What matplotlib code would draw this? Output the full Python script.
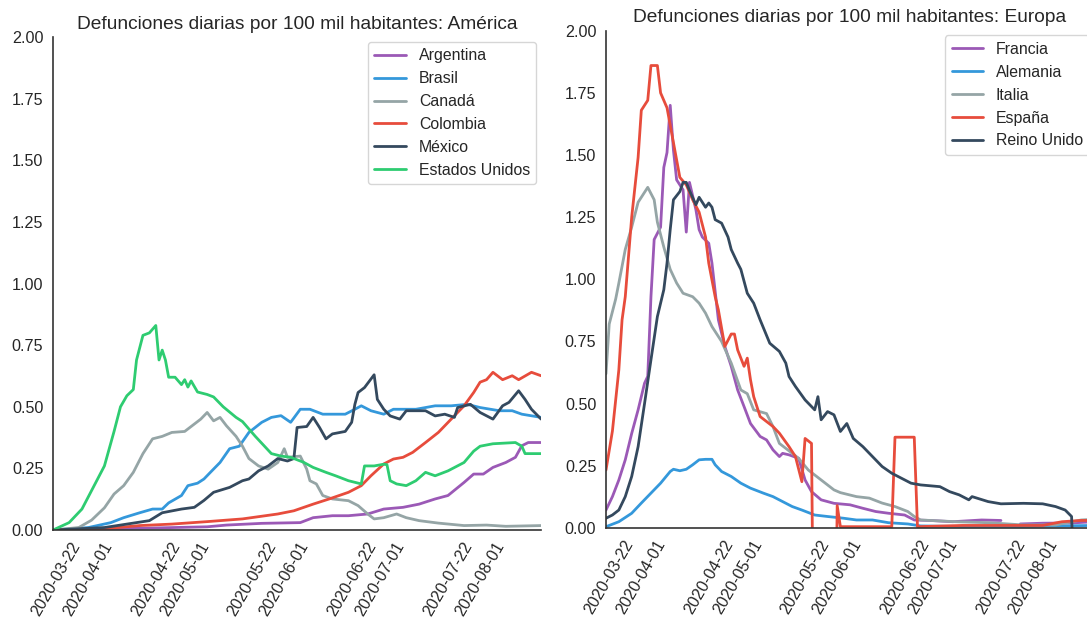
import numpy as np
import pandas as pd
import matplotlib
matplotlib.use("Agg")
import matplotlib.pyplot as plt
import matplotlib.dates as mdates
import seaborn as sns

# días desde 2020-03-21 y defunciones diarias por 100 mil habitantes
inicio = pd.Timestamp("2020-03-21")
fin_dias = 152

# --- América ---
arg_dias = [0, 27, 48, 54, 65, 77, 81, 87, 92, 98, 103, 109, 114, 119, 123, 128, 131, 134, 137, 141, 144, 146, 148, 152]
arg_vals = [0.0, 0.007, 0.013, 0.02, 0.027, 0.03, 0.05, 0.058, 0.058, 0.065, 0.085, 0.092, 0.105, 0.126, 0.14, 0.193,
            0.227, 0.227, 0.254, 0.274, 0.295, 0.342, 0.355, 0.355]

bra_dias = [0, 11, 18, 22, 27, 31, 34, 36, 40, 42, 45, 47, 49, 52, 55, 58, 61, 65, 68, 71, 74, 77, 80, 84, 91, 94, 96,
            99, 103, 106, 113, 119, 124, 129, 133, 139, 143, 146, 152]
bra_vals = [0.0, 0.01, 0.03, 0.05, 0.07, 0.085, 0.085, 0.11, 0.14, 0.18, 0.19, 0.207, 0.234, 0.274, 0.33, 0.34, 0.396,
            0.437, 0.457, 0.464, 0.437, 0.49, 0.49, 0.47, 0.47, 0.49, 0.504, 0.484, 0.47, 0.49, 0.49, 0.504, 0.504,
            0.51, 0.497, 0.484, 0.484, 0.47, 0.457]

can_dias = [0, 8, 12, 16, 19, 22, 25, 28, 31, 34, 37, 41, 44, 46, 48, 50, 52, 54, 57, 59, 61, 64, 67, 70, 72, 73, 77,
            79, 80, 82, 84, 87, 92, 95, 98, 100, 103, 107, 110, 114, 120, 128, 135, 141, 152]
can_vals = [0.0, 0.01, 0.04, 0.09, 0.146, 0.18, 0.234, 0.31, 0.37, 0.38, 0.396, 0.40, 0.43, 0.45, 0.477, 0.443, 0.457,
            0.423, 0.38, 0.34, 0.29, 0.26, 0.247, 0.274, 0.33, 0.295, 0.30, 0.247, 0.20, 0.187, 0.14, 0.126, 0.119,
            0.099, 0.065, 0.045, 0.05, 0.065, 0.05, 0.038, 0.028, 0.018, 0.02, 0.015, 0.018]

col_dias = [0, 15, 27, 37, 48, 59, 70, 75, 81, 86, 92, 96, 99, 103, 106, 109, 112, 116, 120, 124, 128, 131, 133, 135,
            137, 140, 143, 145, 149, 152]
col_vals = [0.0, 0.004, 0.018, 0.024, 0.034, 0.045, 0.065, 0.078, 0.105, 0.126, 0.153, 0.18, 0.22, 0.268, 0.288, 0.295,
            0.315, 0.355, 0.396, 0.45, 0.504, 0.558, 0.60, 0.61, 0.64, 0.61, 0.626, 0.61, 0.64, 0.626]

mex_dias = [0, 16, 23, 30, 34, 40, 44, 47, 50, 55, 59, 61, 64, 67, 70, 73, 75, 76, 79, 81, 83, 85, 87, 91, 93, 94, 95,
            97, 100, 101, 103, 105, 108, 110, 116, 119, 122, 125, 126, 130, 133, 137, 140, 142, 145, 147, 149, 152]
mex_vals = [0.0, 0.01, 0.024, 0.038, 0.07, 0.085, 0.092, 0.12, 0.153, 0.173, 0.20, 0.207, 0.24, 0.26, 0.29, 0.28, 0.29,
            0.416, 0.42, 0.457, 0.416, 0.37, 0.39, 0.40, 0.437, 0.51, 0.558, 0.578, 0.63, 0.53, 0.49, 0.463, 0.45,
            0.484, 0.484, 0.463, 0.47, 0.457, 0.497, 0.51, 0.477, 0.45, 0.504, 0.518, 0.565, 0.53, 0.49, 0.45]

usa_dias = [0, 5, 9, 12, 16, 19, 21, 23, 25, 26, 28, 30, 32, 33, 34, 35, 36, 38, 40, 41, 42, 43, 45, 48, 50, 53, 57, 59,
            63, 68, 71, 74, 78, 81, 85, 88, 92, 96, 97, 100, 103, 104, 105, 107, 110, 113, 116, 119, 123, 128, 131, 133,
            137, 144, 146, 147, 152]
usa_vals = [0.0, 0.03, 0.085, 0.16, 0.26, 0.40, 0.50, 0.545, 0.57, 0.69, 0.79, 0.80, 0.83, 0.69, 0.73, 0.69, 0.62, 0.62,
            0.59, 0.61, 0.58, 0.605, 0.56, 0.55, 0.54, 0.50, 0.457, 0.44, 0.38, 0.31, 0.30, 0.295, 0.275, 0.254, 0.234,
            0.22, 0.20, 0.187, 0.26, 0.26, 0.267, 0.265, 0.20, 0.187, 0.18, 0.20, 0.234, 0.22, 0.24, 0.274, 0.32, 0.34,
            0.35, 0.355, 0.34, 0.31, 0.31]

# --- Europa ---
fra_dias = [0, 2, 4, 6, 8, 10, 12, 13, 14, 15, 17, 18, 19, 20, 21, 22, 24, 25, 26, 28, 29, 30, 32, 33, 35, 37, 39, 41,
            43, 45, 48, 50, 52, 54, 55, 57, 60, 62, 64, 67, 71, 76, 80, 84, 88, 93, 96, 101, 108, 117, 123, 126, 129,
            136, 145, 152]
fra_vals = [0.072, 0.126, 0.193, 0.274, 0.38, 0.475, 0.582, 0.61, 0.93, 1.16, 1.21, 1.45, 1.51, 1.70, 1.52, 1.40, 1.36,
            1.19, 1.39, 1.28, 1.20, 1.17, 1.145, 1.065, 0.837, 0.73, 0.65, 0.555, 0.488, 0.42, 0.368, 0.354, 0.314,
            0.287, 0.30, 0.294, 0.28, 0.193, 0.146, 0.113, 0.099, 0.093, 0.079, 0.066, 0.059, 0.052, 0.032, 0.03,
            0.025, 0.032, 0.03, np.nan, 0.016, 0.019, 0.02, 0.025]

ale_dias = [0, 4, 8, 11, 14, 17, 20, 21, 23, 25, 27, 29, 31, 33, 34, 36, 39, 42, 45, 49, 52, 55, 58, 61, 65, 69, 74, 78,
            83, 88, 94, 98, 110, 130, 152]
ale_vals = [0.005, 0.025, 0.059, 0.10, 0.14, 0.18, 0.227, 0.236, 0.23, 0.236, 0.254, 0.274, 0.276, 0.276, 0.254, 0.227,
            0.207, 0.18, 0.16, 0.14, 0.126, 0.106, 0.086, 0.072, 0.052, 0.046, 0.039, 0.032, 0.032, 0.021, 0.016,
            0.008, 0.006, 0.006, 0.01]

ita_dias = [0, 1, 3, 4, 6, 8, 10, 12, 13, 15, 16, 18, 20, 22, 24, 27, 29, 31, 33, 36, 39, 42, 44, 46, 50, 52, 54, 57,
            60, 63, 67, 71, 73, 78, 82, 86, 90, 94, 96, 98, 109, 119, 130, 140, 148, 152]
ita_vals = [0.62, 0.82, 0.92, 0.985, 1.12, 1.21, 1.31, 1.35, 1.37, 1.32, 1.23, 1.13, 1.04, 0.985, 0.944, 0.93, 0.904,
            0.864, 0.81, 0.75, 0.663, 0.555, 0.54, 0.475, 0.46, 0.408, 0.34, 0.31, 0.28, 0.233, 0.193, 0.153, 0.142,
            0.126, 0.12, 0.10, 0.086, 0.066, 0.046, 0.032, 0.025, 0.021, 0.012, 0.012, 0.032, 0.035]

esp_dias = [0, 2, 4, 5, 6, 8, 10, 11, 13, 14, 16, 17, 19, 21, 23, 25, 27, 29, 31, 32, 34, 35, 37, 39, 40, 41, 43, 44,
            45, 46, 48, 52, 54, 57, 59, 61, 62, 64, 65, 71, 72, 73, 89, 90, 96, 97, 111, 136, 142, 148, 152]
esp_vals = [0.233, 0.39, 0.636, 0.837, 0.93, 1.25, 1.49, 1.68, 1.72, 1.86, 1.86, 1.75, 1.69, 1.55, 1.41, 1.38, 1.32,
            1.27, 1.17, 1.065, 0.93, 0.877, 0.73, 0.78, 0.78, 0.716, 0.65, 0.683, 0.596, 0.528, 0.448, 0.408, 0.381,
            0.327, 0.287, 0.186, 0.36, 0.34, -1.0, -1.0, 0.09, 0.005, 0.005, 0.365, 0.365, 0.005, 0.01, 0.01, 0.025,
            0.03, 0.03]

rei_dias = [0, 2, 4, 6, 8, 10, 12, 14, 16, 18, 19, 20, 21, 23, 24, 25, 26, 28, 29, 31, 32, 33, 34, 36, 38, 39, 41, 42,
            44, 46, 48, 51, 54, 56, 57, 59, 62, 65, 66, 67, 69, 71, 73, 75, 77, 80, 83, 86, 89, 92, 95, 98, 104, 107,
            110, 113, 114, 119, 123, 130, 136, 140, 143, 145, 146, 152]
rei_vals = [0.039, 0.052, 0.072, 0.126, 0.207, 0.327, 0.50, 0.676, 0.85, 0.958, 1.065, 1.20, 1.32, 1.353, 1.39, 1.39,
            1.357, 1.30, 1.33, 1.29, 1.307, 1.29, 1.24, 1.226, 1.17, 1.12, 1.065, 1.04, 0.944, 0.904, 0.837, 0.743,
            0.71, 0.663, 0.609, 0.569, 0.515, 0.475, 0.528, 0.435, 0.468, 0.455, 0.388, 0.42, 0.36, 0.327, 0.287,
            0.247, 0.22, 0.20, 0.18, 0.173, 0.166, 0.146, 0.133, 0.113, 0.126, 0.106, 0.097, 0.099, 0.097, 0.086,
            0.072, 0.046, -0.3, -0.3]

america = [("Argentina", arg_dias, arg_vals), ("Brasil", bra_dias, bra_vals), ("Canadá", can_dias, can_vals),
           ("Colombia", col_dias, col_vals), ("México", mex_dias, mex_vals), ("Estados Unidos", usa_dias, usa_vals)]
europa = [("Francia", fra_dias, fra_vals), ("Alemania", ale_dias, ale_vals), ("Italia", ita_dias, ita_vals),
          ("España", esp_dias, esp_vals), ("Reino Unido", rei_dias, rei_vals)]

colores = ["#9b59b6", "#3498db", "#95a5a6", "#e74c3c", "#34495e", "#2ecc71"]

sns.set_style("white")
plt.rcParams["font.family"] = ["Liberation Sans", "DejaVu Sans"]
plt.rcParams["text.color"] = ".15"
plt.rcParams["xtick.color"] = ".15"
plt.rcParams["ytick.color"] = ".15"


def fechas(dias):
    return inicio + pd.to_timedelta(dias, unit="D")


fig = plt.figure(figsize=(10.87, 6.27), dpi=100)
ax1 = fig.add_axes([0.0488, 0.1547, 0.449, 0.786])
ax2 = fig.add_axes([0.5575, 0.158, 0.449, 0.793])

for ax, paises, titulo in [(ax1, america, "América"), (ax2, europa, "Europa")]:
    for (nombre, dias, vals), c in zip(paises, colores):
        ax.plot(fechas(dias), vals, color=c, linewidth=2.0, label=nombre)
    ax.set_title("Defunciones diarias por 100 mil habitantes: " + titulo, fontsize=13.8, pad=6)
    ax.set_ylim(0, 2)
    ax.set_yticks(np.arange(0, 2.01, 0.25))
    ax.set_xlim(inicio, inicio + pd.Timedelta(days=fin_dias))
    ax.xaxis.set_major_locator(mdates.DayLocator(bymonthday=[1, 22]))
    ax.xaxis.set_major_formatter(mdates.DateFormatter("%Y-%m-%d"))
    ax.tick_params(axis="both", labelsize=11.6, length=0, pad=7)
    plt.setp(ax.get_xticklabels(), rotation=60)
    for s in ["top", "right"]:
        ax.spines[s].set_visible(False)
    for s in ["left", "bottom"]:
        ax.spines[s].set_color(".2")
        ax.spines[s].set_linewidth(1.2)
    ax.legend(loc="upper right", fontsize=11.4, frameon=True, edgecolor="0.8", borderaxespad=0.3)

fig.savefig("out.png", dpi=100)
